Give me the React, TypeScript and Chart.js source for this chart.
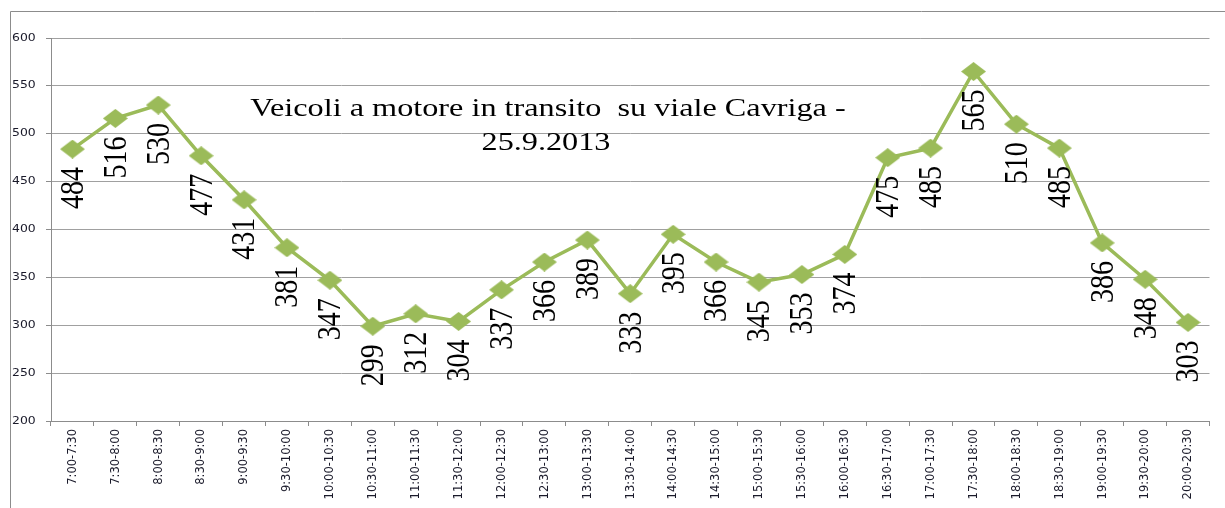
import React, { useEffect, useRef } from "react";
import { Chart, registerables } from "chart.js";

Chart.register(...registerables);

const categories = [
  "7:00-7:30", "7:30-8:00", "8:00-8:30", "8:30-9:00", "9:00-9:30", "9:30-10:00",
  "10:00-10:30", "10:30-11:00", "11:00-11:30", "11:30-12:00", "12:00-12:30", "12:30-13:00",
  "13:00-13:30", "13:30-14:00", "14:00-14:30", "14:30-15:00", "15:00-15:30", "15:30-16:00",
  "16:00-16:30", "16:30-17:00", "17:00-17:30", "17:30-18:00", "18:00-18:30", "18:30-19:00",
  "19:00-19:30", "19:30-20:00", "20:00-20:30",
];
const vehicles = [
  484, 516, 530, 477, 431, 381, 347, 299, 312, 304, 337, 366, 389, 333, 395, 366, 345, 353,
  374, 475, 485, 565, 510, 485, 386, 348, 303,
];
const titleLines = ["Veicoli a motore in transito  su viale Cavriga -", "25.9.2013"];
const yMin = 200;
const yMax = 600;
const yStep = 50;

const GREEN = "#9BBB59";
const STRETCH = 1.24;

function makeDiamond(): HTMLCanvasElement {
  const w = 25;
  const h = 19;
  const c = document.createElement("canvas");
  c.width = w;
  c.height = h;
  const g = c.getContext("2d")!;
  g.fillStyle = GREEN;
  g.beginPath();
  g.moveTo(w / 2, 0);
  g.lineTo(w, h / 2);
  g.lineTo(w / 2, h);
  g.lineTo(0, h / 2);
  g.closePath();
  g.fill();
  return c;
}

const decorPlugin = {
  id: "decor",
  beforeDraw(chart: any) {
    const ctx = chart.ctx;
    ctx.save();
    ctx.fillStyle = "#ffffff";
    ctx.fillRect(0, 0, chart.width, chart.height);
    ctx.strokeStyle = "#8c8c8c";
    ctx.lineWidth = 1;
    ctx.beginPath();
    ctx.moveTo(10.5, chart.height);
    ctx.lineTo(10.5, 11.5);
    ctx.lineTo(chart.width, 11.5);
    ctx.stroke();
    ctx.restore();
  },
  afterDraw(chart: any) {
    const ctx = chart.ctx;
    const xs = chart.scales.x;
    const ys = chart.scales.y;
    ctx.save();
    // y tick labels
    ctx.fillStyle = "#1a1a2a";
    ctx.font = '10px "DejaVu Sans", sans-serif';
    ctx.textAlign = "left";
    ctx.textBaseline = "middle";
    for (let v = yMin; v <= yMax; v += yStep) {
      ctx.save();
      ctx.translate(12, ys.getPixelForValue(v));
      ctx.scale(STRETCH, 1);
      ctx.fillText(String(v), 0, 0);
      ctx.restore();
    }
    // x tick labels
    ctx.font = '11.5px "DejaVu Sans", sans-serif';
    ctx.textAlign = "right";
    ctx.textBaseline = "middle";
    categories.forEach((lab, i) => {
      ctx.save();
      ctx.translate(xs.getPixelForValue(i), ys.bottom + 8);
      ctx.rotate(-Math.PI / 2);
      ctx.scale(1, 1.1);
      ctx.fillText(lab, 0, 0);
      ctx.restore();
    });
    ctx.restore();
  },
  afterDatasetsDraw(chart: any) {
    const ctx = chart.ctx;
    const meta = chart.getDatasetMeta(0);
    ctx.save();
    ctx.fillStyle = "#000000";
    ctx.font = '28px "Liberation Serif", "Times New Roman", serif';
    ctx.textAlign = "right";
    ctx.textBaseline = "middle";
    meta.data.forEach((pt: any, i: number) => {
      ctx.save();
      ctx.translate(pt.x, pt.y + 18);
      ctx.rotate(-Math.PI / 2);
      ctx.scale(1, STRETCH);
      ctx.fillText(String(vehicles[i]), 0, 1);
      ctx.restore();
    });
    ctx.font = '26px "Liberation Serif", "Times New Roman", serif';
    ctx.textAlign = "center";
    ctx.textBaseline = "middle";
    ctx.save();
    ctx.translate(548, 109);
    ctx.scale(STRETCH, 1);
    ctx.fillText(titleLines[0], 0, 0);
    ctx.restore();
    ctx.save();
    ctx.translate(546, 143);
    ctx.scale(STRETCH, 1);
    ctx.fillText(titleLines[1], 0, 0);
    ctx.restore();
    ctx.restore();
  },
};

export default function App() {
  const ref = useRef<HTMLCanvasElement>(null);
  useEffect(() => {
    if (!ref.current) return;
    const diamond = makeDiamond();
    const chart = new Chart(ref.current, {
      type: "line",
      data: {
        labels: categories,
        datasets: [
          {
            data: vehicles,
            borderColor: GREEN,
            backgroundColor: GREEN,
            borderWidth: 3.5,
            pointStyle: diamond as any,
            pointRadius: 12,
            pointHoverRadius: 12,
            tension: 0,
          },
        ],
      },
      options: {
        animation: false,
        responsive: false,
        maintainAspectRatio: false,
        layout: { padding: { left: 12, top: 38, right: 5, bottom: 0 } },
        plugins: {
          legend: { display: false },
          tooltip: { enabled: false },
          title: { display: false },
        },
        scales: {
          x: {
            offset: true,
            grid: {
              offset: true,
              drawOnChartArea: false,
              drawTicks: true,
              tickLength: 5,
              tickColor: "#8c8c8c",
            },
            border: { color: "#8c8c8c", width: 1 },
            ticks: {
              autoSkip: false,
              maxRotation: 90,
              minRotation: 90,
              padding: 3,
              color: "rgba(0,0,0,0)",
              font: { family: '"DejaVu Sans", sans-serif', size: 10 },
            },
            afterFit: (s: any) => {
              s.height = 87;
            },
          },
          y: {
            min: yMin,
            max: yMax,
            grid: {
              color: "#a0a0a0",
              lineWidth: 1,
              drawTicks: true,
              tickLength: 5,
              tickColor: "#8c8c8c",
            },
            border: { color: "#8c8c8c", width: 1 },
            ticks: {
              stepSize: yStep,
              crossAlign: "far",
              color: "rgba(0,0,0,0)",
              font: { family: '"DejaVu Sans", sans-serif', size: 12 },
            },
            afterFit: (s: any) => {
              s.width = 39;
            },
          },
        },
      },
      plugins: [decorPlugin],
    });
    return () => chart.destroy();
  }, []);
  return (
    <div style={{ position: "absolute", left: 0, top: 0, width: 1225, height: 508 }}>
      <canvas ref={ref} width={1225} height={508} style={{ display: "block" }} />
    </div>
  );
}
